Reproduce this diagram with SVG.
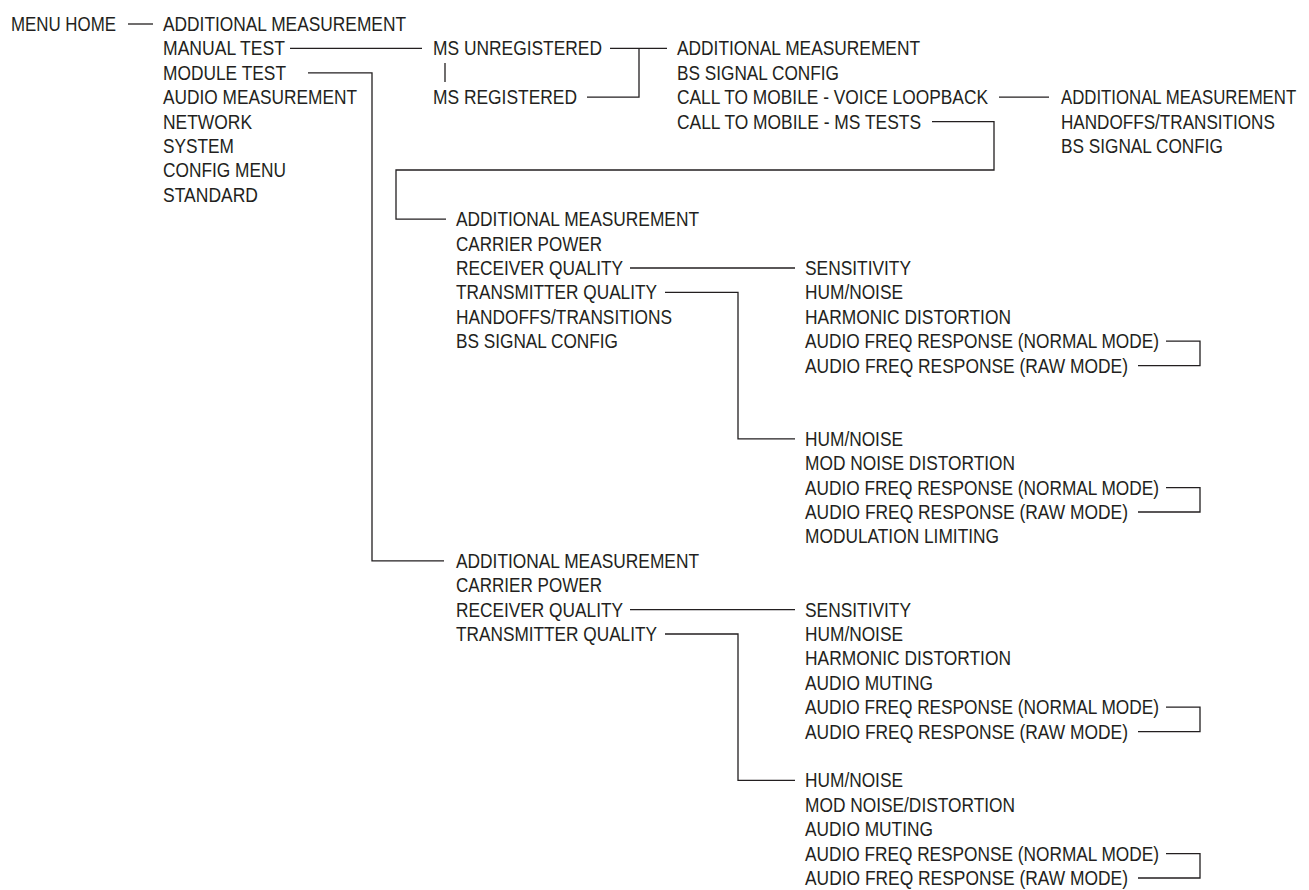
<svg xmlns="http://www.w3.org/2000/svg" width="1309" height="890" viewBox="0 0 1309 890">
<style>
text{font-family:"Liberation Sans",Arial,sans-serif;font-size:20.5px;fill:#231f20}
.c{fill:none;stroke:#231f20;stroke-width:1.3}
</style>
<rect width="1309" height="890" fill="#fff"/>
<g id="connectors">
<path class="c" d="M128,24H153"/>
<path class="c" d="M290,48.4H422"/>
<path class="c" d="M445,63V82"/>
<path class="c" d="M610,48.4H667"/>
<path class="c" d="M587,97.2H639V48.4"/>
<path class="c" d="M999,97.2H1049"/>
<path class="c" d="M932,121.6H994V170H396V219.2H446"/>
<path class="c" d="M308,72.8H372V560.8H444"/>
<path class="c" d="M630,268H795"/>
<path class="c" d="M665,292.4H738V438.8H795"/>
<path class="c" d="M1166,341.2H1200V365.6H1138"/>
<path class="c" d="M1166,487.6H1200V512H1138"/>
<path class="c" d="M630,609.6H795"/>
<path class="c" d="M665,634H738V780.4H795"/>
<path class="c" d="M1166,707.2H1200V731.6H1138"/>
<path class="c" d="M1166,853.6H1200V878H1138"/>
</g>
<g id="menu-home"><text x="11" y="31" textLength="105" lengthAdjust="spacingAndGlyphs">MENU HOME</text></g>
<g id="main-menu">
<text x="163" y="31" textLength="243" lengthAdjust="spacingAndGlyphs">ADDITIONAL MEASUREMENT</text>
<text x="163" y="55.4" textLength="122" lengthAdjust="spacingAndGlyphs">MANUAL TEST</text>
<text x="163" y="79.8" textLength="123" lengthAdjust="spacingAndGlyphs">MODULE TEST</text>
<text x="163" y="104.2" textLength="194" lengthAdjust="spacingAndGlyphs">AUDIO MEASUREMENT</text>
<text x="163" y="128.6" textLength="89" lengthAdjust="spacingAndGlyphs">NETWORK</text>
<text x="163" y="153" textLength="71" lengthAdjust="spacingAndGlyphs">SYSTEM</text>
<text x="163" y="177.4" textLength="123" lengthAdjust="spacingAndGlyphs">CONFIG MENU</text>
<text x="163" y="201.8" textLength="95" lengthAdjust="spacingAndGlyphs">STANDARD</text>
</g>
<g id="ms-state">
<text x="433" y="55.4" textLength="169" lengthAdjust="spacingAndGlyphs">MS UNREGISTERED</text>
<text x="433" y="104.2" textLength="144" lengthAdjust="spacingAndGlyphs">MS REGISTERED</text>
</g>
<g id="manual-test-menu">
<text x="677" y="55.4" textLength="243" lengthAdjust="spacingAndGlyphs">ADDITIONAL MEASUREMENT</text>
<text x="677" y="79.8" textLength="162" lengthAdjust="spacingAndGlyphs">BS SIGNAL CONFIG</text>
<text x="677" y="104.2" textLength="311" lengthAdjust="spacingAndGlyphs">CALL TO MOBILE - VOICE LOOPBACK</text>
<text x="677" y="128.6" textLength="244" lengthAdjust="spacingAndGlyphs">CALL TO MOBILE - MS TESTS</text>
</g>
<g id="voice-loopback-menu">
<text transform="matrix(0.819,0,0,1,1061,104.2)">ADDITIONAL MEASUREMENT</text>
<text transform="matrix(0.835,0,0,1,1061,128.6)">HANDOFFS/TRANSITIONS</text>
<text x="1061" y="153" textLength="162" lengthAdjust="spacingAndGlyphs">BS SIGNAL CONFIG</text>
</g>
<g id="ms-tests-menu">
<text x="456" y="226.2" textLength="243" lengthAdjust="spacingAndGlyphs">ADDITIONAL MEASUREMENT</text>
<text x="456" y="250.6" textLength="146" lengthAdjust="spacingAndGlyphs">CARRIER POWER</text>
<text x="456" y="275" textLength="167" lengthAdjust="spacingAndGlyphs">RECEIVER QUALITY</text>
<text x="456" y="299.4" textLength="201" lengthAdjust="spacingAndGlyphs">TRANSMITTER QUALITY</text>
<text x="456" y="323.8" textLength="216" lengthAdjust="spacingAndGlyphs">HANDOFFS/TRANSITIONS</text>
<text x="456" y="348.2" textLength="162" lengthAdjust="spacingAndGlyphs">BS SIGNAL CONFIG</text>
</g>
<g id="ms-rx-quality">
<text x="805" y="275" textLength="106" lengthAdjust="spacingAndGlyphs">SENSITIVITY</text>
<text x="805" y="299.4" textLength="98" lengthAdjust="spacingAndGlyphs">HUM/NOISE</text>
<text x="805" y="323.8" textLength="206" lengthAdjust="spacingAndGlyphs">HARMONIC DISTORTION</text>
<text x="805" y="348.2" textLength="354" lengthAdjust="spacingAndGlyphs">AUDIO FREQ RESPONSE (NORMAL MODE)</text>
<text x="805" y="372.6" textLength="323" lengthAdjust="spacingAndGlyphs">AUDIO FREQ RESPONSE (RAW MODE)</text>
</g>
<g id="ms-tx-quality">
<text x="805" y="445.8" textLength="98" lengthAdjust="spacingAndGlyphs">HUM/NOISE</text>
<text x="805" y="470.2" textLength="210" lengthAdjust="spacingAndGlyphs">MOD NOISE DISTORTION</text>
<text x="805" y="494.6" textLength="354" lengthAdjust="spacingAndGlyphs">AUDIO FREQ RESPONSE (NORMAL MODE)</text>
<text x="805" y="519" textLength="323" lengthAdjust="spacingAndGlyphs">AUDIO FREQ RESPONSE (RAW MODE)</text>
<text x="805" y="543.4" textLength="194" lengthAdjust="spacingAndGlyphs">MODULATION LIMITING</text>
</g>
<g id="module-test-menu">
<text x="456" y="567.8" textLength="243" lengthAdjust="spacingAndGlyphs">ADDITIONAL MEASUREMENT</text>
<text x="456" y="592.2" textLength="146" lengthAdjust="spacingAndGlyphs">CARRIER POWER</text>
<text x="456" y="616.6" textLength="167" lengthAdjust="spacingAndGlyphs">RECEIVER QUALITY</text>
<text x="456" y="641" textLength="201" lengthAdjust="spacingAndGlyphs">TRANSMITTER QUALITY</text>
</g>
<g id="module-rx-quality">
<text x="805" y="616.6" textLength="106" lengthAdjust="spacingAndGlyphs">SENSITIVITY</text>
<text x="805" y="641" textLength="98" lengthAdjust="spacingAndGlyphs">HUM/NOISE</text>
<text x="805" y="665.4" textLength="206" lengthAdjust="spacingAndGlyphs">HARMONIC DISTORTION</text>
<text x="805" y="689.8" textLength="128" lengthAdjust="spacingAndGlyphs">AUDIO MUTING</text>
<text x="805" y="714.2" textLength="354" lengthAdjust="spacingAndGlyphs">AUDIO FREQ RESPONSE (NORMAL MODE)</text>
<text x="805" y="738.6" textLength="323" lengthAdjust="spacingAndGlyphs">AUDIO FREQ RESPONSE (RAW MODE)</text>
</g>
<g id="module-tx-quality">
<text x="805" y="787.4" textLength="98" lengthAdjust="spacingAndGlyphs">HUM/NOISE</text>
<text x="805" y="811.8" textLength="210" lengthAdjust="spacingAndGlyphs">MOD NOISE/DISTORTION</text>
<text x="805" y="836.2" textLength="128" lengthAdjust="spacingAndGlyphs">AUDIO MUTING</text>
<text x="805" y="860.6" textLength="354" lengthAdjust="spacingAndGlyphs">AUDIO FREQ RESPONSE (NORMAL MODE)</text>
<text x="805" y="885" textLength="323" lengthAdjust="spacingAndGlyphs">AUDIO FREQ RESPONSE (RAW MODE)</text>
</g>
</svg>
